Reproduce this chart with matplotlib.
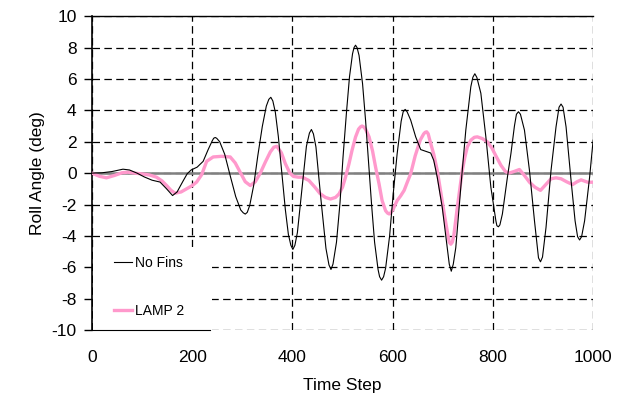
import numpy as np
import matplotlib.pyplot as plt
from matplotlib.patches import Rectangle

plt.rcParams['font.family'] = ['Liberation Sans', 'DejaVu Sans']
plt.rcParams['axes.unicode_minus'] = False

# No Fins roll angle
t_nofins = [0, 20, 40, 62, 75, 90, 105, 120, 136, 149, 161, 170, 182, 190, 198, 210,
            222, 232, 240, 243, 246, 249, 255, 265, 276, 287, 297, 302, 306, 310, 315,
            323, 331, 340, 348, 353, 357, 361, 366, 372, 379, 386, 392, 397, 401, 405,
            410, 419, 428, 434, 438, 442, 447, 457, 467, 473, 477, 481, 488, 495, 501,
            508, 514, 520, 523, 526, 529, 533, 540, 546, 552, 558, 564, 571, 574, 578,
            582, 586, 594, 601, 609, 617, 621, 625, 629, 636, 646, 656, 666, 676, 682,
            689, 699, 709, 713, 717, 721, 726, 736, 746, 756, 760, 764, 768, 776, 786,
            796, 806, 808, 811, 814, 819, 829, 836, 843, 847, 851, 855, 863, 873, 883,
            891, 895, 899, 906, 916, 926, 932, 936, 940, 946, 956, 964, 969, 973, 977,
            983, 993, 1000]
roll_nofins = [0, 0.02, 0.1, 0.25, 0.2, 0.0, -0.25, -0.45, -0.57, -1.0, -1.43, -1.2,
               -0.5, -0.05, 0.2, 0.38, 0.75, 1.5, 2.05, 2.22, 2.27, 2.22, 2.0, 1.2,
               -0.17, -1.5, -2.35, -2.53, -2.61, -2.5, -2.05, -0.75, 1.1, 2.97, 4.27,
               4.7, 4.83, 4.6, 3.88, 2.33, 0.0, -2.33, -3.9, -4.6, -4.86, -4.6, -3.79,
               -1.04, 1.71, 2.55, 2.78, 2.5, 1.67, -1.68, -4.8, -5.85, -6.14, -5.8,
               -4.4, -1.9, 1.0, 3.9, 6.15, 7.6, 8.0, 8.15, 8.0, 7.5, 5.7, 3.37, 0.67,
               -2.0, -4.4, -6.15, -6.6, -6.82, -6.6, -6.06, -4.0, -1.38, 1.23, 3.3,
               3.9, 4.06, 3.9, 3.38, 2.31, 1.5, 1.39, 1.28, 0.81, -0.26, -2.18, -4.75,
               -5.8, -6.25, -5.8, -4.75, -0.9, 2.74, 5.5, 6.1, 6.33, 6.1, 5.09, 2.31,
               -0.9, -3.04, -3.35, -3.42, -3.3, -2.6, -0.26, 1.24, 3.0, 3.75, 3.91,
               3.75, 2.74, 0.17, -3.04, -5.4, -5.65, -5.35, -3.47, 0.17, 2.95, 4.2,
               4.4, 4.2, 2.95, -0.47, -3.04, -4.05, -4.26, -4.05, -3.04, -0.26, 2.1]

# LAMP 2 roll angle
t_lamp = [0, 15, 29, 45, 60, 72, 85, 100, 115, 129, 140, 149, 158, 166, 178, 189,
          200, 209, 219, 229, 242, 259, 276, 286, 296, 306, 316, 326, 336, 346, 356,
          363, 369, 378, 386, 395, 402, 412, 420, 433, 445, 455, 466, 476, 486, 493,
          500, 506, 513, 519, 526, 532, 536, 539, 542, 546, 553, 560, 566, 573, 579,
          586, 590, 593, 596, 601, 609, 616, 623, 629, 636, 645, 655, 662, 665, 668,
          671, 675, 682, 689, 697, 703, 710, 713, 716, 719, 722, 729, 739, 744, 749,
          756, 763, 769, 779, 789, 798, 806, 816, 825, 832, 842, 853, 863, 873, 884,
          895, 905, 916, 926, 936, 947, 959, 968, 976, 989, 1000]
roll_lamp = [0, -0.2, -0.3, -0.15, 0.02, 0.06, 0.0, -0.05, -0.12, -0.26, -0.5, -0.79,
             -1.1, -1.28, -1.2, -1.0, -0.8, -0.57, -0.1, 0.75, 1.03, 1.07, 1.03, 0.65,
             0.05, -0.55, -0.79, -0.55, 0.0, 0.7, 1.35, 1.65, 1.71, 1.3, 0.6, 0.0,
             -0.21, -0.26, -0.26, -0.47, -0.9, -1.3, -1.55, -1.65, -1.55, -1.33, -0.9,
             -0.26, 0.6, 1.45, 2.3, 2.8, 2.95, 3.0, 2.95, 2.8, 2.31, 1.4, 0.38, -0.7,
             -1.75, -2.4, -2.55, -2.6, -2.55, -2.3, -1.75, -1.45, -1.1, -0.6, -0.04,
             1.1, 2.1, 2.5, 2.6, 2.63, 2.5, 2.0, 1.2, 0.17, -1.4, -2.6, -3.9, -4.4,
             -4.53, -4.4, -4.0, -2.2, 0.17, 1.0, 1.67, 2.1, 2.28, 2.31, 2.2, 1.99,
             1.6, 1.1, 0.5, 0.1, 0.0, 0.1, 0.23, -0.15, -0.58, -0.9, -1.1, -0.75,
             -0.36, -0.3, -0.36, -0.55, -0.73, -0.55, -0.43, -0.58, -0.58]

x_ticks = [0, 200, 400, 600, 800, 1000]
y_ticks = list(range(-10, 11, 2))

fig = plt.figure(figsize=(6.25, 4.04), dpi=100)
ax = fig.add_axes([0.147, 0.183, 0.802, 0.777])

ax.plot(t_nofins, roll_nofins, color='black', lw=0.8, label='No Fins', zorder=4,
        solid_joinstyle='round')
ax.plot(t_lamp, roll_lamp, color='#ff99cc', lw=2.4, label='LAMP 2', zorder=3,
        solid_joinstyle='round')
ax.axhline(0, color='#808080', lw=1.8, zorder=2)

ax.set_xlim(0, 1000)
ax.set_ylim(-10, 10)
ax.set_xticks(x_ticks)
ax.set_yticks(y_ticks)
ax.grid(True, color='black', ls=(0, (6, 3.5)), lw=0.9)
ax.tick_params(axis='x', length=0, pad=14, labelsize=12.5)
ax.tick_params(axis='y', length=6, width=1, direction='out', pad=5, labelsize=12.5)

ax.spines['right'].set_visible(False)
ax.spines['top'].set_linewidth(1)
ax.spines['left'].set_linewidth(1.2)
ax.spines['bottom'].set_bounds(0, 236)
ax.spines['bottom'].set_zorder(7)

# white box behind the legend
ax.add_patch(Rectangle((0.002, 0.0), 0.238, 0.264, transform=ax.transAxes,
                       facecolor='white', edgecolor='none', zorder=5))
leg = ax.legend(loc='lower left', bbox_to_anchor=(0.02, 0.0), frameon=False,
                fontsize=10, handlelength=1.3, handletextpad=0.2, labelspacing=2.4)
leg.set_zorder(6)

ax.set_xlabel('Time Step', fontsize=12.5, labelpad=10)
ax.set_ylabel('Roll Angle (deg)', fontsize=12.5, labelpad=5)

fig.savefig('out.png', dpi=100)
